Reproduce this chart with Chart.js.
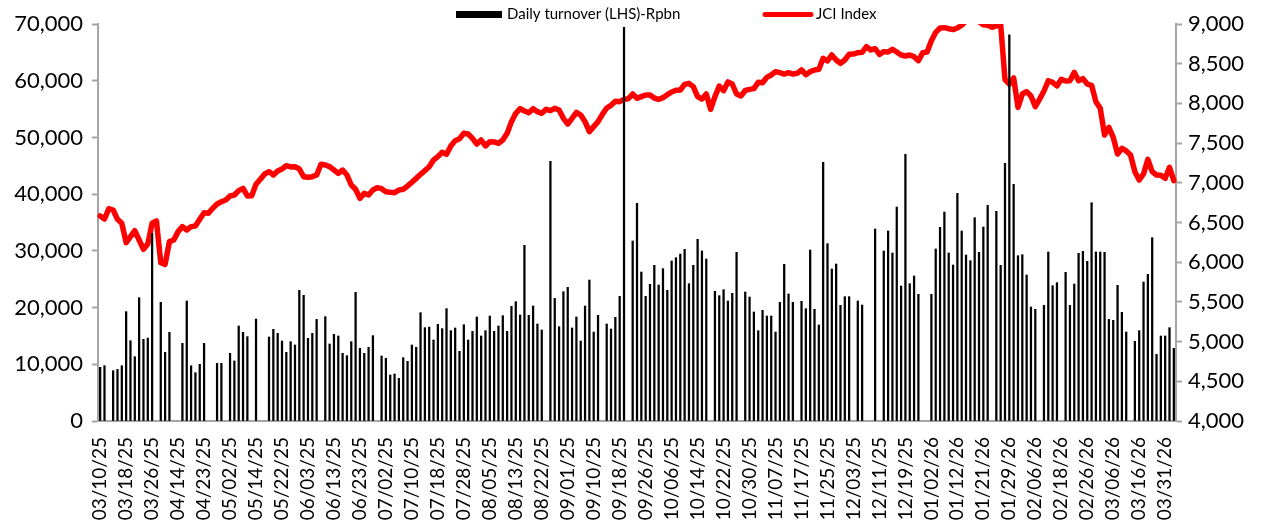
<!DOCTYPE html>
<html>
<head>
<meta charset="utf-8">
<script src="https://cdn.jsdelivr.net/npm/chart.js@4.4.1/dist/chart.umd.min.js"></script>
<style>
  html, body { margin: 0; padding: 0; background: #ffffff; }
  #wrap { width: 1267px; height: 524px; }
</style>
</head>
<body>
<div id="wrap"><canvas id="jci" width="1267" height="524"></canvas></div>
<script>
// trading days on the axis, from 10 Mar 2025, exchange holidays left out
var firstDay = '2025-03-10';
var dayCount = 249;
var closedDays = [
  '2025-03-28', '2025-03-31', '2025-04-01', '2025-04-02', '2025-04-03', '2025-04-04', '2025-04-07',
  '2025-04-18', '2025-05-01', '2025-05-12', '2025-05-13', '2025-05-29', '2025-05-30',
  '2025-06-06', '2025-06-09', '2025-06-27', '2025-08-18', '2025-09-05',
  '2025-12-24', '2025-12-25', '2025-12-26', '2026-01-01', '2026-01-16',
  '2026-02-16', '2026-02-17', '2026-03-18', '2026-03-19', '2026-03-20', '2026-03-23', '2026-03-24'
];

// daily turnover, Rp bn (null = no bar)
var turnover = [
  9460, 9750, null, 8870, 9100, 9750, 19280, 14160, 11340, 21750,
  14400, 14630, 33090, null, 20920, 12110, 15630, null, null, 13690,
  21160, 9750, 8520, 9990, 13690, null, null, 10170, 10170, null,
  11930, 10580, 16750, 15630, 14870, null, 17980, null, null, 14810,
  16160, 15460, 14100, 12110, 13990, 13400, 23040, 22160, 14580, 15460,
  17920, null, 18400, 13580, 15280, 14990, 11930, 11520, 13990, 22690,
  12810, 11930, 12990, 15050, null, 11460, 11050, 8110, 8290, 7520,
  11170, 10520, 13400, 12990, 19100, 16460, 16570, 14280, 17040, 16280,
  19810, 15930, 16400, 12280, 16980, 14280, 15810, 18340, 14990, 15930,
  18510, 15810, 16750, 18570, 15810, 20220, 21040, 18690, 30970, 18630,
  20280, 17100, 16040, null, 45780, 21630, 16630, 22800, 23570, 16400,
  18340, 14100, 20280, 24860, 15690, 18630, null, 17100, 16220, 18280,
  21980, 69410, null, 31740, 38380, 26270, 21980, 24100, 27450, 23980,
  26860, 23040, 28210, 28800, 29440, 30270, 24210, 27450, 32030, 29970,
  28560, null, 22860, 22100, 23150, 21160, 22510, 29740, null, 22740,
  21860, 19220, 15930, 19510, 18510, 18510, 15690, 20920, 27620, 22390,
  20920, null, 21100, 19810, 30150, 19690, 16930, 45610, 31270, 26800,
  27680, 20390, 21920, 21920, null, 21160, 20450, null, null, 33850,
  null, 29970, 33500, 29620, 37730, 23800, 47020, 24210, 25570, 22330,
  null, null, 22330, 30330, 34150, 36850, 29620, 27500, 40140, 33500,
  29270, 28270, 35850, 29740, 34200, 38020, null, 36970, 27450, 45430,
  68110, 41730, 29150, 29330, 25740, 20100, 19690, null, 20390, 29800,
  23860, 24390, null, 26210, 20390, 24150, 29560, 29910, 28150, 38490,
  29800, 29800, 29740, 17920, 17750, 23920, 19160, 15690, null, 14050,
  15930, 24510, 25860, 32320, 11750, 14990, 14990, 16460, 12810
];

// JCI closing level
var jci = [
  6582, 6544, 6674, 6657, 6540, 6490, 6246, 6322, 6397, 6280,
  6162, 6229, 6490, 6519, 5994, 5973, 6259, 6280, 6385, 6448,
  6406, 6448, 6456, 6540, 6624, 6616, 6679, 6733, 6762, 6783,
  6834, 6846, 6901, 6930, 6834, 6838, 6981, 7044, 7111, 7140,
  7098, 7149, 7174, 7216, 7199, 7203, 7174, 7077, 7069, 7077,
  7098, 7233, 7224, 7203, 7161, 7119, 7161, 7098, 6972, 6918,
  6804, 6867, 6846, 6909, 6939, 6926, 6888, 6880, 6876, 6909,
  6918, 6960, 7006, 7056, 7107, 7153, 7203, 7287, 7329, 7384,
  7359, 7464, 7531, 7556, 7623, 7615, 7560, 7489, 7539, 7464,
  7518, 7514, 7497, 7539, 7623, 7770, 7875, 7934, 7904, 7883,
  7934, 7896, 7875, 7925, 7908, 7938, 7917, 7812, 7741, 7812,
  7888, 7854, 7770, 7644, 7707, 7770, 7862, 7942, 7976, 8026,
  8022, 8051, 8059, 8118, 8064, 8085, 8106, 8106, 8068, 8051,
  8072, 8110, 8144, 8165, 8169, 8240, 8253, 8211, 8085, 8055,
  8118, 7925, 8085, 8219, 8160, 8270, 8244, 8118, 8093, 8163,
  8177, 8186, 8265, 8261, 8328, 8358, 8400, 8387, 8370, 8387,
  8370, 8379, 8421, 8362, 8400, 8421, 8429, 8568, 8534, 8610,
  8547, 8505, 8547, 8618, 8622, 8639, 8643, 8715, 8673, 8689,
  8618, 8652, 8647, 8681, 8647, 8610, 8597, 8610, 8589, 8538,
  8639, 8647, 8790, 8895, 8950, 8954, 8941, 8930, 8950, 8985,
  9040, 9080, 9100, 9030, 8990, 8983, 8958, 8975, 8995, 8300,
  8244, 8320, 7950, 8118, 8148, 8093, 7959, 8055, 8156, 8286,
  8265, 8219, 8303, 8282, 8286, 8391, 8286, 8312, 8244, 8228,
  8022, 7938, 7602, 7699, 7573, 7363, 7434, 7401, 7350, 7140,
  7035, 7111, 7296, 7140, 7098, 7094, 7056, 7195, 7027
];

var turnoverTicks = [0, 10000, 20000, 30000, 40000, 50000, 60000, 70000];
var jciTicks = [4000, 4500, 5000, 5500, 6000, 6500, 7000, 7500, 8000, 8500, 9000];
var labelEvery = 6;

function buildDays() {
  var out = [];
  var d = new Date(firstDay + 'T00:00:00Z');
  while (out.length < dayCount) {
    var wd = d.getUTCDay();
    var iso = d.toISOString().slice(0, 10);
    if (wd !== 0 && wd !== 6 && closedDays.indexOf(iso) < 0) {
      out.push(iso.slice(5, 7) + '/' + iso.slice(8, 10) + '/' + iso.slice(2, 4));
    }
    d.setUTCDate(d.getUTCDate() + 1);
  }
  return out;
}
var days = buildDays();

var axisGrey = '#a6a6a6';
var fontName = 'Lato, "Liberation Sans", sans-serif';

function fmt(v) { return Number(v).toLocaleString('en-US'); }

// legend is drawn by hand so the two items sit where the original has them
var legendBox = {
  id: 'legendBox',
  afterDraw: function (chart) {
    var ctx = chart.ctx;
    ctx.save();
    ctx.fillStyle = '#000000';
    ctx.fillRect(456, 11, 46, 7);
    ctx.strokeStyle = '#ff0000';
    ctx.lineWidth = 5;
    ctx.lineCap = 'round';
    ctx.beginPath();
    ctx.moveTo(765, 14.5);
    ctx.lineTo(811, 14.5);
    ctx.stroke();
    ctx.fillStyle = '#000000';
    ctx.font = '15px ' + fontName;
    ctx.textBaseline = 'middle';
    ctx.textAlign = 'left';
    ctx.fillText('Daily turnover (LHS)-Rpbn', 507, 14.5);
    ctx.fillText('JCI Index', 816, 14.5);
    ctx.restore();
  }
};

new Chart(document.getElementById('jci').getContext('2d'), {
  type: 'bar',
  data: {
    labels: days,
    datasets: [
      {
        label: 'Daily turnover (LHS)-Rpbn',
        data: turnover,
        yAxisID: 'y',
        backgroundColor: '#000000',
        barThickness: 1.6,
        order: 0
      },
      {
        type: 'line',
        label: 'JCI Index',
        data: jci,
        yAxisID: 'y1',
        borderColor: '#ff0000',
        backgroundColor: '#ff0000',
        borderWidth: 5.5,
        borderJoinStyle: 'round',
        borderCapStyle: 'round',
        pointRadius: 0,
        tension: 0,
        order: 1
      }
    ]
  },
  options: {
    responsive: false,
    animation: false,
    devicePixelRatio: 1,
    layout: { padding: { top: 24, left: 0, right: 0, bottom: 0 } },
    plugins: {
      legend: { display: false },
      tooltip: { enabled: false }
    },
    scales: {
      x: {
        offset: true,
        grid: { display: false },
        border: { display: true, color: axisGrey, width: 2 },
        ticks: {
          autoSkip: false,
          minRotation: 90,
          maxRotation: 90,
          padding: 8,
          color: '#000000',
          font: { family: fontName, size: 19 },
          callback: function (v, i) { return i % labelEvery === 0 ? days[i] : null; }
        },
        afterFit: function (s) { s.height = 103; }
      },
      y: {
        position: 'left',
        min: turnoverTicks[0],
        max: turnoverTicks[turnoverTicks.length - 1],
        grid: { display: true, drawOnChartArea: false, drawTicks: true, tickLength: 6, tickColor: axisGrey, tickWidth: 2 },
        border: { display: true, color: axisGrey, width: 2 },
        ticks: {
          stepSize: turnoverTicks[1] - turnoverTicks[0],
          padding: 9,
          color: '#000000',
          font: { family: fontName, size: 22 },
          callback: function (v) { return fmt(v); }
        },
        afterFit: function (s) { s.width = 98; }
      },
      y1: {
        position: 'right',
        min: jciTicks[0],
        max: jciTicks[jciTicks.length - 1],
        grid: { display: true, drawOnChartArea: false, drawTicks: true, tickLength: 6, tickColor: axisGrey, tickWidth: 2 },
        border: { display: true, color: axisGrey, width: 2 },
        ticks: {
          stepSize: jciTicks[1] - jciTicks[0],
          padding: 6,
          color: '#000000',
          font: { family: fontName, size: 22 },
          callback: function (v) { return fmt(v); }
        },
        afterFit: function (s) { s.width = 91; }
      }
    }
  },
  plugins: [legendBox]
});
</script>
</body>
</html>
